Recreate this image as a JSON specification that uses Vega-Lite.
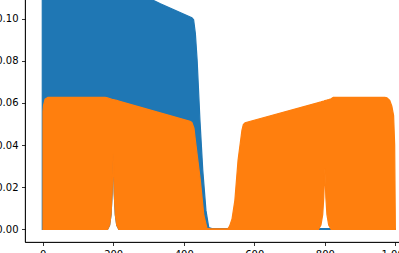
{
  "$schema": "https://vega.github.io/schema/vega-lite/v6.json",
  "width": 388,
  "height": 277,
  "autosize": {"type": "none"},
  "padding": {"left": 25, "top": -35, "right": 0, "bottom": 20},
  "background": "white",
  "datasets": {
    "blue": [
      {"x": -1, "y": 0.1195, "y0": 0},
      {"x": 178, "y": 0.1195, "y0": 0},
      {"x": 184, "y": 0.1190, "y0": 0},
      {"x": 190, "y": 0.1185, "y0": 0.002},
      {"x": 194, "y": 0.1182, "y0": 0.007},
      {"x": 197, "y": 0.1180, "y0": 0.017},
      {"x": 200, "y": 0.1177, "y0": 0.036},
      {"x": 203, "y": 0.1175, "y0": 0.017},
      {"x": 206, "y": 0.1173, "y0": 0.007},
      {"x": 210, "y": 0.1170, "y0": 0.002},
      {"x": 216, "y": 0.1165, "y0": 0},
      {"x": 334, "y": 0.1071, "y0": 0},
      {"x": 423, "y": 0.1005, "y0": 0},
      {"x": 428, "y": 0.0995, "y0": 0},
      {"x": 433, "y": 0.093, "y0": 0},
      {"x": 438, "y": 0.0803, "y0": 0},
      {"x": 446, "y": 0.0518, "y0": 0},
      {"x": 454, "y": 0.028, "y0": 0},
      {"x": 463, "y": 0.009, "y0": 0},
      {"x": 471, "y": 0.0008, "y0": 0},
      {"x": 480, "y": 0.0004, "y0": 0},
      {"x": 1000, "y": 0.0004, "y0": 0}
    ],
    "orange": [
      {"x": 1, "y": 0.056, "y0": 0},
      {"x": 2.5, "y": 0.0589, "y0": 0},
      {"x": 7, "y": 0.0618, "y0": 0},
      {"x": 15, "y": 0.0627, "y0": 0},
      {"x": 177, "y": 0.0627, "y0": 0},
      {"x": 184, "y": 0.0624, "y0": 0},
      {"x": 190, "y": 0.0621, "y0": 0.002},
      {"x": 194, "y": 0.0619, "y0": 0.007},
      {"x": 197, "y": 0.0617, "y0": 0.017},
      {"x": 200, "y": 0.0616, "y0": 0.036},
      {"x": 203, "y": 0.0615, "y0": 0.017},
      {"x": 206, "y": 0.0614, "y0": 0.007},
      {"x": 210, "y": 0.0612, "y0": 0.002},
      {"x": 216, "y": 0.0609, "y0": 0},
      {"x": 418, "y": 0.0513, "y0": 0},
      {"x": 423, "y": 0.0508, "y0": 0},
      {"x": 429, "y": 0.048, "y0": 0},
      {"x": 433, "y": 0.0423, "y0": 0},
      {"x": 447, "y": 0.0233, "y0": 0},
      {"x": 457, "y": 0.0067, "y0": 0},
      {"x": 466, "y": 0.0005, "y0": 0},
      {"x": 475, "y": 0.0003, "y0": 0},
      {"x": 525, "y": 0.0003, "y0": 0},
      {"x": 530, "y": 0.0015, "y0": 0},
      {"x": 537, "y": 0.005, "y0": 0},
      {"x": 545, "y": 0.0138, "y0": 0},
      {"x": 554, "y": 0.0328, "y0": 0},
      {"x": 565, "y": 0.047, "y0": 0},
      {"x": 569, "y": 0.0498, "y0": 0},
      {"x": 574, "y": 0.0506, "y0": 0},
      {"x": 782, "y": 0.0602, "y0": 0},
      {"x": 789, "y": 0.0605, "y0": 0.002},
      {"x": 794, "y": 0.0608, "y0": 0.007},
      {"x": 797, "y": 0.0609, "y0": 0.015},
      {"x": 800, "y": 0.0611, "y0": 0.029},
      {"x": 803, "y": 0.0612, "y0": 0.015},
      {"x": 806, "y": 0.0614, "y0": 0.007},
      {"x": 811, "y": 0.0616, "y0": 0.002},
      {"x": 818, "y": 0.0620, "y0": 0},
      {"x": 824, "y": 0.0627, "y0": 0},
      {"x": 970, "y": 0.0627, "y0": 0},
      {"x": 976, "y": 0.0625, "y0": 0},
      {"x": 984, "y": 0.0612, "y0": 0},
      {"x": 990, "y": 0.0585, "y0": 0},
      {"x": 995, "y": 0.054, "y0": 0},
      {"x": 998, "y": 0.04, "y0": 0},
      {"x": 999.5, "y": 0.01, "y0": 0},
      {"x": 1000, "y": 0.0, "y0": 0}
    ]
  },
  "encoding": {
    "x": {
      "field": "x", "type": "quantitative",
      "scale": {"domain": [-50, 1050], "nice": false, "zero": false},
      "axis": {"values": [0, 200, 400, 600, 800, 1000], "title": null, "labelFlush": false, "labelOverlap": false}
    },
    "y": {
      "field": "y", "type": "quantitative",
      "scale": {"domain": [-0.006, 0.1255], "nice": false, "zero": false},
      "axis": {"values": [0, 0.02, 0.04, 0.06, 0.08, 0.1, 0.12], "format": ".2f", "title": null, "labelOverlap": false}
    },
    "y2": {"field": "y0"}
  },
  "layer": [
    {
      "data": {"name": "blue"},
      "mark": {"type": "area", "color": "#1f77b4", "stroke": "#1f77b4", "strokeWidth": 1.2, "clip": true}
    },
    {
      "data": {"name": "orange"},
      "mark": {"type": "area", "color": "#ff7f0e", "stroke": "#ff7f0e", "strokeWidth": 1.2, "clip": true}
    }
  ],
  "config": {
    "view": {"stroke": "black", "strokeWidth": 0.8},
    "axis": {
      "grid": false,
      "domainColor": "black",
      "domainWidth": 0.8,
      "tickColor": "black",
      "tickWidth": 0.8,
      "tickSize": 3.5,
      "labelFont": "DejaVu Sans",
      "labelFontSize": 10,
      "labelColor": "black",
      "labelPadding": 3.5
    }
  }
}
